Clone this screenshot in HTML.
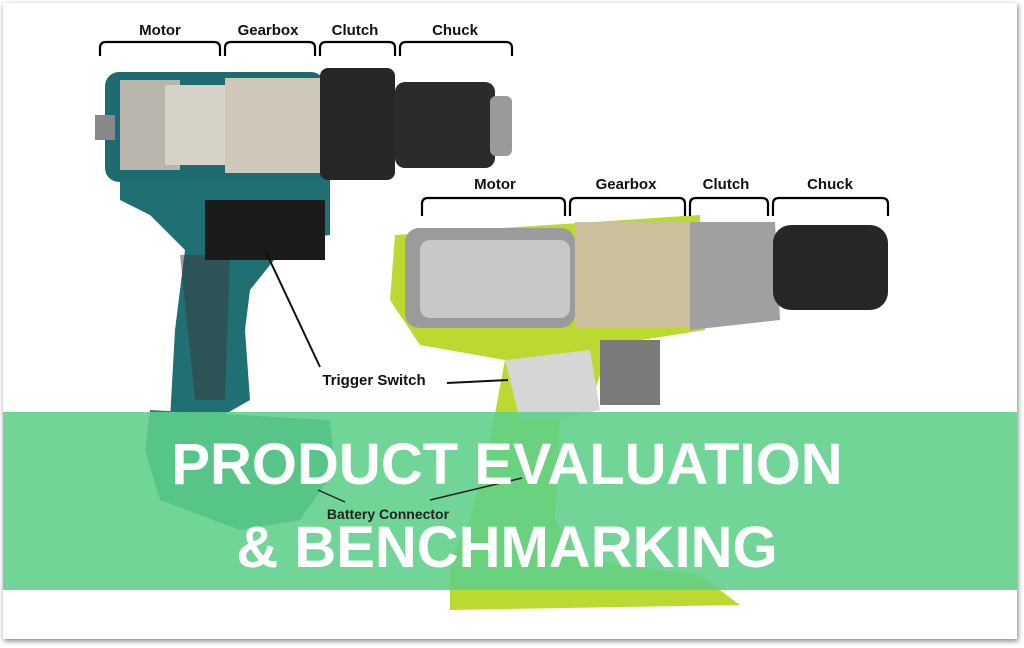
<!DOCTYPE html>
<html><head><meta charset="utf-8"><style>
html,body{margin:0;padding:0;background:#fff;}
body{width:1024px;height:648px;overflow:hidden;position:relative;font-family:"Liberation Sans",sans-serif;}
.frame{position:absolute;left:3px;top:3px;width:1014px;height:636px;background:#fff;box-shadow:1px 2px 5px rgba(0,0,0,.5);}
</style></head><body>
<div class="frame"></div>
<svg width="1024" height="648" style="position:absolute;left:0;top:0" font-family="Liberation Sans, sans-serif">
<path d="M120,175 L330,175 L330,235 L290,240 L250,290 L245,330 L250,400 L215,420 L170,420 L175,330 L185,250 L150,215 L120,200 Z" fill="#1f6f73"/>
<path d="M150,410 L330,420 L335,470 L300,520 L240,530 L160,500 L145,450 Z" fill="#2a7d7c"/>
<path d="M180,255 L230,255 L225,400 L195,400 Z" fill="#3a3a3a" opacity=".5"/>
<rect x="105" y="72" width="220" height="110" rx="14" fill="#1d6b70"/>
<rect x="120" y="80" width="60" height="90" fill="#b9b5ac"/>
<rect x="165" y="85" width="60" height="80" fill="#d6d2c8"/>
<rect x="225" y="78" width="95" height="95" fill="#cfc8b8"/>
<rect x="320" y="68" width="75" height="112" rx="8" fill="#262626"/>
<rect x="395" y="82" width="100" height="86" rx="10" fill="#2b2b2b"/>
<rect x="490" y="96" width="22" height="60" rx="6" fill="#9a9a9a"/>
<rect x="95" y="115" width="20" height="25" fill="#888"/>
<rect x="205" y="200" width="120" height="60" fill="#1a1a1a"/>
<path d="M265,250 L320,367" stroke="#111" stroke-width="2"/>

<path d="M395,235 L700,215 L705,330 L610,345 L590,405 L560,420 L555,520 L580,560 L700,575 L740,605 L450,610 L450,560 L470,520 L490,440 L505,360 L420,345 L390,300 Z" fill="#bcd932"/>
<path d="M505,360 L590,350 L600,410 L555,420 L520,420 Z" fill="#d6d6d6"/>
<rect x="405" y="228" width="170" height="100" rx="14" fill="#9b9b9b"/>
<rect x="420" y="240" width="150" height="78" rx="10" fill="#c8c8c8"/>
<rect x="575" y="222" width="125" height="105" fill="#cbbf9c"/>
<path d="M690,222 L775,222 L780,320 L690,330 Z" fill="#a0a0a0"/>
<rect x="773" y="225" width="115" height="85" rx="18" fill="#262626"/>
<rect x="600" y="340" width="60" height="65" fill="#7a7a7a"/>
<path d="M447,383 L508,380" stroke="#111" stroke-width="2"/>

<g fill="none" stroke="#000" stroke-width="2.2">
<path d="M100,56 v-8 q0,-6 6,-6 h108 q6,0 6,6 v8"/>
<path d="M225,56 v-8 q0,-6 6,-6 h78 q6,0 6,6 v8"/>
<path d="M320,56 v-8 q0,-6 6,-6 h63 q6,0 6,6 v8"/>
<path d="M400,56 v-8 q0,-6 6,-6 h100 q6,0 6,6 v8"/>
<path d="M422,216 v-12 q0,-6 6,-6 h131 q6,0 6,6 v12"/>
<path d="M570,216 v-12 q0,-6 6,-6 h103 q6,0 6,6 v12"/>
<path d="M690,216 v-12 q0,-6 6,-6 h66 q6,0 6,6 v12"/>
<path d="M773,216 v-12 q0,-6 6,-6 h103 q6,0 6,6 v12"/>
</g>
<g font-weight="bold" font-size="15" fill="#111" text-anchor="middle">
<text x="160" y="35">Motor</text><text x="268" y="35">Gearbox</text><text x="355" y="35">Clutch</text><text x="455" y="35">Chuck</text>
<text x="495" y="189">Motor</text><text x="626" y="189">Gearbox</text><text x="726" y="189">Clutch</text><text x="830" y="189">Chuck</text>
<text x="374" y="385">Trigger Switch</text>
</g>
<rect x="3" y="412" width="1014" height="178" fill="#5fcf8a" opacity=".88"/>
<path d="M318,490 L345,502 M430,500 L522,478" stroke="#222" stroke-width="1.5"/>
<text x="388" y="519" font-size="14" font-weight="bold" fill="#222" text-anchor="middle">Battery Connector</text>
<g fill="#fff" font-size="58" font-weight="bold" text-anchor="middle">
<text x="507" y="484">PRODUCT EVALUATION</text>
<text x="507" y="567">&amp; BENCHMARKING</text>
</g>
</svg>
</body></html>
